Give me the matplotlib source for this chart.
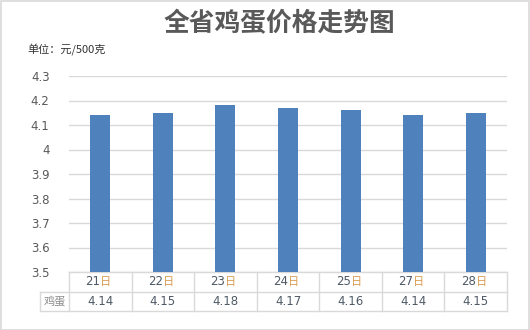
import matplotlib
matplotlib.use("Agg")
import matplotlib.pyplot as plt
from matplotlib.ticker import FuncFormatter, MultipleLocator
from matplotlib.patches import Rectangle

plt.rcParams['font.family'] = ['DejaVu Sans', 'Noto Sans CJK SC']

days = ["21", "22", "23", "24", "25", "27", "28"]
day_suffix = "日"
prices = [4.14, 4.15, 4.18, 4.17, 4.16, 4.14, 4.15]
series_name = "鸡蛋"
title = "全省鸡蛋价格走势图"
unit = "单位：元/500克"

W, H = 530, 330
fig = plt.figure(figsize=(W/100, H/100), dpi=100)
fig.patches.append(Rectangle((0.5/W, 0.5/H), 1-1.5/W, 1-1.5/H, transform=fig.transFigure,
                             fill=False, edgecolor="#d9d9d9", linewidth=1.2))

ax = fig.add_axes([69/W, (330-272)/H, (507-69)/W, (272-76)/H])
x = list(range(len(days)))
ax.bar(x, prices, width=0.32, color="#4f81bd", zorder=3)
ax.set_xlim(-0.5, len(days)-0.5)
ax.set_ylim(3.5, 4.3)
ax.yaxis.set_major_locator(MultipleLocator(0.1))
ax.yaxis.set_major_formatter(FuncFormatter(lambda v, p: f"{round(v,1):g}"))
ax.grid(axis='y', color="#d9d9d9", linewidth=1, zorder=0)
for s in ax.spines.values():
    s.set_visible(False)
ax.tick_params(axis='y', length=0, pad=14, labelsize=8.5, labelcolor="#595959")
ax.tick_params(axis='x', length=0, labelbottom=False)

# table
tr = ax.get_xaxis_transform()
rh = 19.5/196
lc = "#d9d9d9"
lab_left = -0.5 - 29/62.6
n = len(days)
kw = dict(transform=tr, clip_on=False, color=lc, linewidth=1)
ax.plot([-0.5, n-0.5], [0, 0], **kw)
ax.plot([lab_left, n-0.5], [-rh, -rh], **kw)
ax.plot([lab_left, n-0.5], [-2*rh, -2*rh], **kw)
ax.plot([lab_left, lab_left], [-rh, -2*rh], **kw)
for i in range(n+1):
    ax.plot([i-0.5, i-0.5], [0, -2*rh], **kw)

for i, (d, v) in enumerate(zip(days, prices)):
    ax.text(i+0.0, -rh/2, d, transform=tr, ha='right', va='center', fontsize=8.5, color="#4f5a66")
    ax.text(i+0.0, -rh/2, day_suffix, transform=tr, ha='left', va='center', fontsize=8,
            color="#d99a4e", family=['Noto Sans CJK SC'])
    ax.text(i, -1.5*rh, f"{v:.2f}", transform=tr, ha='center', va='center', fontsize=8.5, color="#4f5a66")
ax.text((lab_left-0.5)/2, -1.5*rh, series_name, transform=tr, ha='center', va='center',
        fontsize=8, color="#8c8c8c", family=['Noto Sans CJK SC'])

fig.text(279/W, 1-24/H, title, ha='center', va='center', fontsize=18.5, fontweight='bold',
         color="#595959", family=['Noto Sans CJK SC'])
fig.text(27/W, 1-50/H, unit, ha='left', va='center', fontsize=8, color="#333333",
         family=['Noto Sans CJK SC', 'DejaVu Sans'])

fig.savefig("out.png", dpi=100)
